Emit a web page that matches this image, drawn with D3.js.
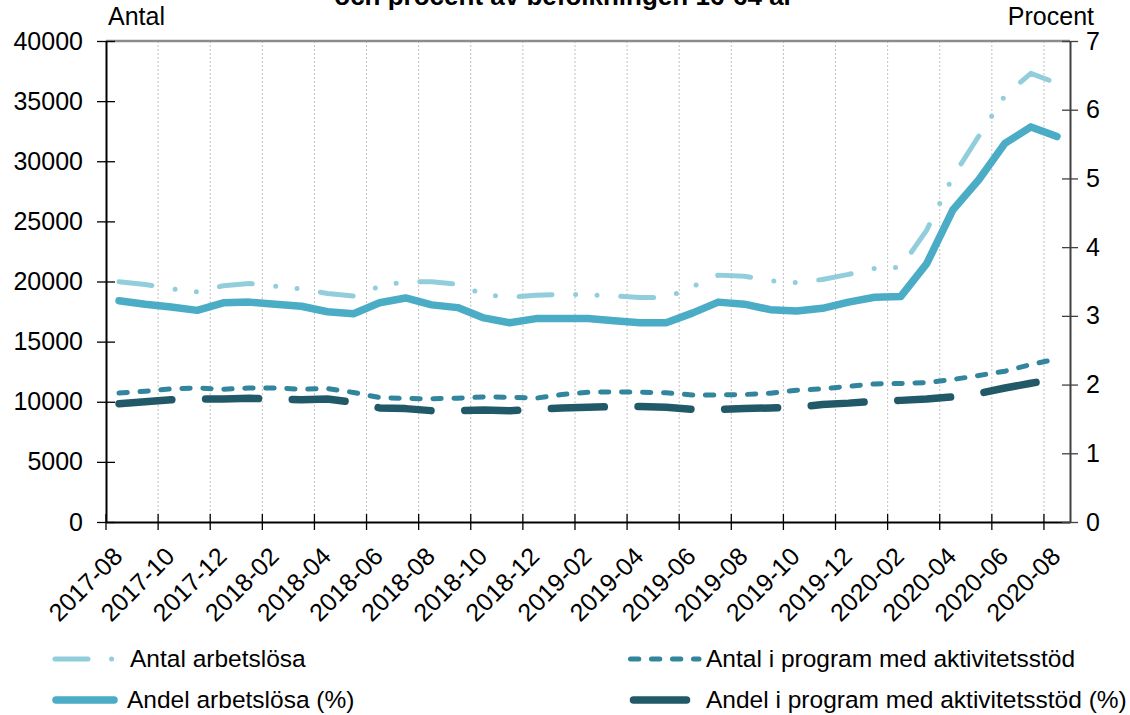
<html>
<head>
<script src="https://d3js.org/d3.v7.min.js"></script>
<style>
  body { margin: 0; background: #fff; }
  text { font-family: "Liberation Sans", Arial, sans-serif; fill: #000; }
</style>
</head>
<body>
<svg id="chart" width="1130" height="715"></svg>
<script>
// monthly categories
const months = ["2017-08","2017-09","2017-10","2017-11","2017-12","2018-01","2018-02","2018-03",
  "2018-04","2018-05","2018-06","2018-07","2018-08","2018-09","2018-10","2018-11","2018-12",
  "2019-01","2019-02","2019-03","2019-04","2019-05","2019-06","2019-07","2019-08","2019-09",
  "2019-10","2019-11","2019-12","2020-01","2020-02","2020-03","2020-04","2020-05","2020-06",
  "2020-07","2020-08"];

// left axis (Antal)
const antalArbetslosa = [19970,19750,19400,19140,19650,19840,19610,19390,19000,18800,19590,20000,
  19970,19780,18900,18700,18860,18920,18900,18800,18670,18650,19560,20530,20440,20050,19920,
  20170,20590,21100,21170,24270,28700,32100,35450,37310,36480];
const antalProgram = [10730,10880,11070,11150,11040,11150,11150,11040,11100,10770,10350,10270,
  10250,10300,10400,10380,10300,10600,10790,10820,10790,10740,10570,10570,10600,10710,10960,
  11070,11290,11480,11520,11600,11850,12180,12540,13100,13570];

// right axis (Procent)
const andelArbetslosa = [3.22,3.17,3.13,3.08,3.19,3.20,3.17,3.14,3.06,3.03,3.19,3.26,3.16,3.12,
  2.97,2.90,2.96,2.96,2.96,2.93,2.90,2.90,3.04,3.20,3.17,3.09,3.07,3.11,3.20,3.27,3.28,3.76,
  4.54,4.98,5.51,5.75,5.61];
const andelProgram = [1.72,1.75,1.78,1.79,1.79,1.80,1.79,1.78,1.79,1.74,1.66,1.65,1.62,1.62,1.63,
  1.62,1.64,1.66,1.67,1.68,1.68,1.67,1.64,1.64,1.65,1.66,1.67,1.71,1.73,1.76,1.77,1.79,1.82,
  1.87,1.95,2.02,2.08];

const leftTicks = [0,5000,10000,15000,20000,25000,30000,35000,40000];
const rightTicks = [0,1,2,3,4,5,6,7];
const labelMonths = months.filter((d, i) => i % 2 === 0);

const series = [
  { name: "Antal arbetslösa", values: antalArbetslosa, axis: "left", color: "#92cddc", width: 5, dash: "33,23.6,0,21.4,0,23.7" },
  { name: "Andel arbetslösa (%)", values: andelArbetslosa, axis: "right", color: "#4bacc6", width: 7.5, dash: null },
  { name: "Antal i program med aktivitetsstöd", values: antalProgram, axis: "left", color: "#31859c", width: 5, dash: "8.3,12.7" },
  { name: "Andel i program med aktivitetsstöd (%)", values: andelProgram, axis: "right", color: "#215968", width: 7.5, dash: "53,33.7" }
];

const svg = d3.select("svg#chart");
const plotLeft = 106, plotRight = 1070, plotTop = 41, plotBottom = 522;

const x = d3.scaleBand().domain(months).range([plotLeft, plotRight]);
const bw = x.bandwidth();
const cx = m => x(m) + bw / 2;
const yL = d3.scaleLinear().domain([0, 40000]).range([plotBottom, plotTop]);
const yR = d3.scaleLinear().domain([0, 7]).range([plotBottom, plotTop]);

// vertical dotted grid at tick boundaries
svg.append("g").selectAll("line").data(labelMonths.slice(1)).join("line")
  .attr("x1", d => x(d)).attr("x2", d => x(d))
  .attr("y1", plotTop).attr("y2", plotBottom)
  .attr("stroke", "#c0c0c0").attr("stroke-width", 1).attr("stroke-dasharray", "2,2");

// top border
svg.append("line")
  .attr("x1", plotLeft).attr("x2", plotRight).attr("y1", plotTop).attr("y2", plotTop)
  .attr("stroke", "#8c8c8c").attr("stroke-width", 2.5);

// series lines
series.forEach(s => {
  const yScale = s.axis === "left" ? yL : yR;
  const line = d3.line().x((d, i) => cx(months[i])).y(d => yScale(d));
  svg.append("path").datum(s.values)
    .attr("d", line)
    .attr("fill", "none")
    .attr("stroke", s.color)
    .attr("stroke-width", s.width)
    .attr("stroke-linecap", "round")
    .attr("stroke-linejoin", "round")
    .attr("stroke-dasharray", s.dash);
});

// bottom axis
const gx = svg.append("g").attr("transform", `translate(0,${plotBottom})`)
  .call(d3.axisBottom(x).tickValues(labelMonths).tickSizeOuter(0));
gx.select(".domain").attr("stroke", "#000").attr("stroke-width", 2);
gx.selectAll(".tick line").attr("x1", -bw / 2).attr("x2", -bw / 2).attr("y1", -8).attr("y2", 8)
  .attr("stroke", "#000").attr("stroke-width", 1.3);
gx.selectAll(".tick text")
  .attr("x", 0).attr("y", 0).attr("dy", 0)
  .attr("text-anchor", "end")
  .attr("transform", "translate(5,36) rotate(-45)")
  .style("font-size", "25px").attr("font-family", null);

// left axis
const gl = svg.append("g").attr("transform", `translate(${plotLeft},0)`)
  .call(d3.axisLeft(yL).tickValues(leftTicks).tickSizeOuter(0).tickFormat(d3.format("d")));
gl.select(".domain").attr("stroke", "#000").attr("stroke-width", 2);
gl.selectAll(".tick line").attr("x1", -9).attr("x2", 9).attr("stroke", "#000").attr("stroke-width", 1.3);
gl.selectAll(".tick text").attr("x", -23).style("font-size", "25px").attr("font-family", null);

// right axis
const gr = svg.append("g").attr("transform", `translate(${plotRight},0)`)
  .call(d3.axisRight(yR).tickValues(rightTicks).tickSizeOuter(0).tickFormat(d3.format("d")));
gr.select(".domain").attr("stroke", "#404040").attr("stroke-width", 2);
gr.selectAll(".tick line").attr("x1", -8).attr("x2", 8).attr("stroke", "#404040").attr("stroke-width", 1.3);
gr.selectAll(".tick text").attr("x", 16).style("font-size", "25px").attr("font-family", null);

// axis titles and (cut-off) chart title
svg.append("text").attr("x", 108).attr("y", 25).style("font-size", "25px").text("Antal");
svg.append("text").attr("x", 1094).attr("y", 25).attr("text-anchor", "end").style("font-size", "25px").text("Procent");
svg.append("text").attr("x", 564).attr("y", 5).attr("text-anchor", "middle")
  .style("font-size", "26px").style("font-weight", "bold")
  .text("och procent av befolkningen 16-64 år");

// legend
const legendPos = [
  { x1: 55, x2: 116, y: 659, tx: 130 },
  { x1: 56, x2: 114, y: 700, tx: 127 },
  { x1: 630.5, x2: 699, y: 659, tx: 706 },
  { x1: 633.5, x2: 687, y: 700, tx: 706 }
];
const legend = svg.append("g");
series.forEach((s, i) => {
  const p = legendPos[i];
  legend.append("line")
    .attr("x1", p.x1).attr("x2", p.x2).attr("y1", p.y).attr("y2", p.y)
    .attr("stroke", s.color).attr("stroke-width", s.width)
    .attr("stroke-linecap", "round").attr("stroke-dasharray", s.dash);
  legend.append("text").attr("x", p.tx).attr("y", p.y + 8)
    .style("font-size", "24.5px").text(s.name);
});
</script>
</body>
</html>
